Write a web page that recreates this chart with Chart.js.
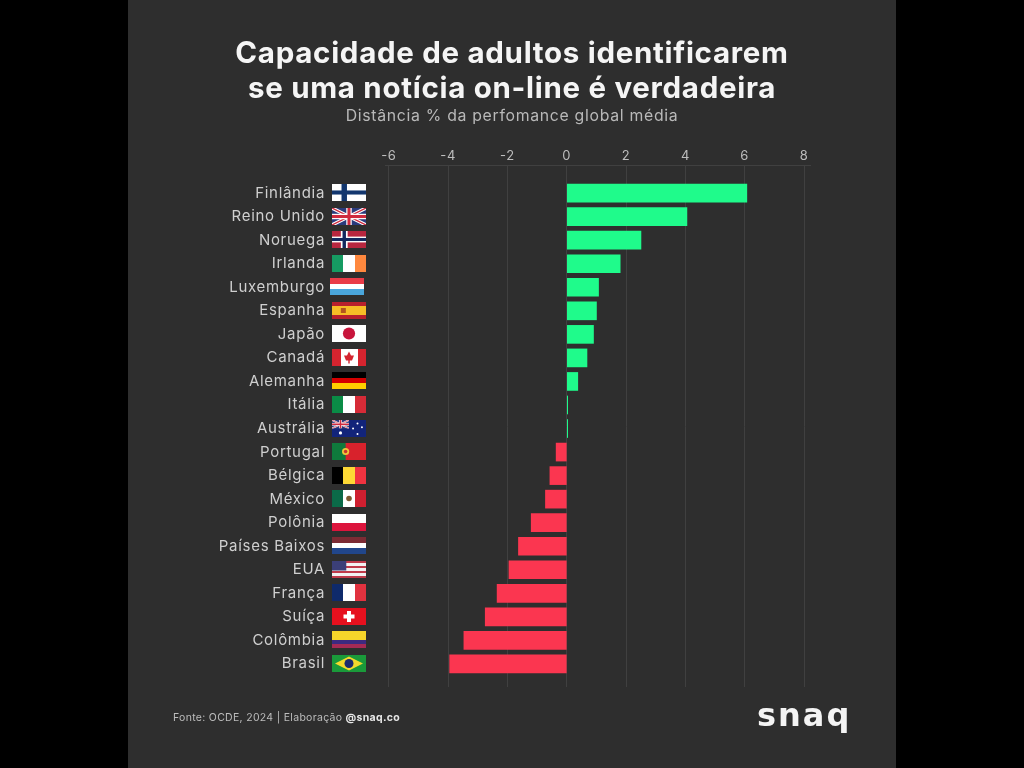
<!DOCTYPE html>
<html>
<head>
<meta charset="utf-8">
<script src="https://cdn.jsdelivr.net/npm/chart.js@4"></script>
<style>
    html, body { margin: 0; padding: 0; background: #000; width: 1024px; height: 768px; overflow: hidden; }
    #panel { position: absolute; left: 128px; top: 0; width: 768px; height: 768px; background: #2e2e2e; }
    #fonte { position: absolute; left: 45px; top: 711px; font: 10.5px Inter, sans-serif; letter-spacing: 0.3px; color: #bdbdbd; }
    #fonte b { color: #e8e8e8; }
    #logo { position: absolute; left: 629px; top: 696px; font: 800 32px "DejaVu Sans", sans-serif; color: #f4f4f4; letter-spacing: 2px; }
</style>
</head>
<body>
<div id="panel">
    <canvas id="chart" width="768" height="768"></canvas>
    <div id="fonte">Fonte: OCDE, 2024 | Elaboração <b>@snaq.co</b></div>
    <div id="logo">snaq</div>
</div>
<script>
const countries = ["Finlândia", "Reino Unido", "Noruega", "Irlanda", "Luxemburgo", "Espanha", "Japão", "Canadá", "Alemanha", "Itália", "Austrália",
    "Portugal", "Bélgica", "México", "Polônia", "Países Baixos", "EUA", "França", "Suíça", "Colômbia", "Brasil"];
const values = [6.07, 4.05, 2.5, 1.8, 1.07, 1.0, 0.9, 0.68, 0.37, 0.03, 0.03,
    -0.36, -0.57, -0.72, -1.2, -1.63, -1.95, -2.35, -2.75, -3.47, -3.95];
const xTicks = [-6, -4, -2, 0, 2, 4, 6, 8];

const GREEN = "#1ffb8b";
const RED = "#fb3650";

// flag = kind of drawing + colours
const flags = [
    ["nordic", "#ffffff", "#12366e"],
    ["uk"],
    ["nordicb", "#b8263f", "#ffffff", "#12285e"],
    ["v", "#169b62", "#ffffff", "#ff883e"],
    ["h", "#ea3b47", "#ffffff", "#4aa6dc"],
    ["spain"],
    ["japan"],
    ["canada"],
    ["h", "#000000", "#d40000", "#ffce00"],
    ["v", "#0a8c46", "#ffffff", "#d62b37"],
    ["aus"],
    ["portugal"],
    ["v", "#000000", "#fdd835", "#ef3340"],
    ["mexico"],
    ["h", "#ffffff", "#dc143c"],
    ["h", "#7c2b34", "#ffffff", "#21468b"],
    ["usa"],
    ["v", "#0f2a6b", "#ffffff", "#e1323f"],
    ["swiss"],
    ["colombia"],
    ["brazil"]
];

function stripesH(ctx, x, y, w, h, cols) {
    cols.forEach((c, i) => {
        const a = Math.round(i * h / cols.length), b = Math.round((i + 1) * h / cols.length);
        ctx.fillStyle = c;
        ctx.fillRect(x, y + a, w, b - a);
    });
}
function stripesV(ctx, x, y, w, h, cols) {
    cols.forEach((c, i) => {
        const a = Math.round(i * w / cols.length), b = Math.round((i + 1) * w / cols.length);
        ctx.fillStyle = c;
        ctx.fillRect(x + a, y, b - a, h);
    });
}
function circle(ctx, x, y, r, c) {
    ctx.fillStyle = c;
    ctx.beginPath();
    ctx.arc(x, y, r, 0, Math.PI * 2);
    ctx.fill();
}
function jack(ctx, x, y, w, h) {
    ctx.fillStyle = "#2a3a7c";
    ctx.fillRect(x, y, w, h);
    ctx.save();
    ctx.beginPath();
    ctx.rect(x, y, w, h);
    ctx.clip();
    [["#ffffff", h * 0.2], ["#cf2a3e", h * 0.08]].forEach(([c, t]) => {
        ctx.strokeStyle = c;
        ctx.lineWidth = t;
        ctx.beginPath();
        ctx.moveTo(x, y);
        ctx.lineTo(x + w, y + h);
        ctx.moveTo(x + w, y);
        ctx.lineTo(x, y + h);
        ctx.stroke();
    });
    ctx.fillStyle = "#ffffff";
    ctx.fillRect(x + w / 2 - h * 0.16, y, h * 0.32, h);
    ctx.fillRect(x, y + h * 0.34, w, h * 0.32);
    ctx.fillStyle = "#cf2a3e";
    ctx.fillRect(x + w / 2 - h * 0.09, y, h * 0.18, h);
    ctx.fillRect(x, y + h * 0.41, w, h * 0.18);
    ctx.restore();
}
function drawFlag(ctx, f, x, y, w, h) {
    const cx = x + w / 2, cy = y + h / 2;
    switch (f[0]) {
        case "h": stripesH(ctx, x, y, w, h, f.slice(1)); break;
        case "v": stripesV(ctx, x, y, w, h, f.slice(1)); break;
        case "nordic":
            ctx.fillStyle = f[1];
            ctx.fillRect(x, y, w, h);
            ctx.fillStyle = f[2];
            ctx.fillRect(x + w * 0.28, y, w * 0.16, h);
            ctx.fillRect(x, y + h * 0.38, w, h * 0.24);
            break;
        case "nordicb":
            ctx.fillStyle = f[1];
            ctx.fillRect(x, y, w, h);
            ctx.fillStyle = f[2];
            ctx.fillRect(x + w * 0.26, y, w * 0.2, h);
            ctx.fillRect(x, y + h * 0.33, w, h * 0.34);
            ctx.fillStyle = f[3];
            ctx.fillRect(x + w * 0.31, y, w * 0.1, h);
            ctx.fillRect(x, y + h * 0.41, w, h * 0.18);
            break;
        case "uk": jack(ctx, x, y, w, h); break;
        case "spain":
            stripesH(ctx, x, y, w, h, ["#b8202c", "#f6bd26", "#f6bd26", "#b8202c"]);
            ctx.fillStyle = "#b3541e";
            ctx.fillRect(x + w * 0.26, cy - 2.5, 5, 5);
            break;
        case "japan":
            ctx.fillStyle = "#ffffff";
            ctx.fillRect(x, y, w, h);
            circle(ctx, cx, cy, h * 0.36, "#c8153c");
            break;
        case "canada":
            stripesV(ctx, x, y, w, h, ["#d5242f", "#ffffff", "#ffffff", "#d5242f"]);
            ctx.fillStyle = "#d5242f";
            ctx.beginPath();
            ctx.moveTo(cx, cy - 6);
            ctx.lineTo(cx + 2, cy - 2);
            ctx.lineTo(cx + 5, cy - 2);
            ctx.lineTo(cx + 3, cy + 3);
            ctx.lineTo(cx + 0.7, cy + 3);
            ctx.lineTo(cx + 0.7, cy + 6);
            ctx.lineTo(cx - 0.7, cy + 6);
            ctx.lineTo(cx - 0.7, cy + 3);
            ctx.lineTo(cx - 3, cy + 3);
            ctx.lineTo(cx - 5, cy - 2);
            ctx.lineTo(cx - 2, cy - 2);
            ctx.closePath();
            ctx.fill();
            break;
        case "aus":
            ctx.fillStyle = "#12247a";
            ctx.fillRect(x, y, w, h);
            jack(ctx, x, y, w * 0.5, h * 0.5);
            circle(ctx, x + w * 0.25, y + h * 0.76, 1.6, "#fff");
            [[0.75, 0.2], [0.62, 0.5], [0.88, 0.42], [0.75, 0.82]].forEach(p => circle(ctx, x + w * p[0], y + h * p[1], 1, "#fff"));
            break;
        case "portugal":
            ctx.fillStyle = "#d8222c";
            ctx.fillRect(x, y, w, h);
            ctx.fillStyle = "#0f7a3c";
            ctx.fillRect(x, y, w * 0.4, h);
            circle(ctx, x + w * 0.4, cy, 3.6, "#f0c53a");
            circle(ctx, x + w * 0.4, cy, 1.8, "#c9372c");
            break;
        case "mexico":
            stripesV(ctx, x, y, w, h, ["#0b6a48", "#ffffff", "#cf1f30"]);
            circle(ctx, cx, cy, 2.8, "#7d5a32");
            break;
        case "usa":
            stripesH(ctx, x, y, w, h, ["#bf3a4a", "#f2f2f2", "#bf3a4a", "#f2f2f2", "#bf3a4a", "#f2f2f2", "#bf3a4a"]);
            ctx.fillStyle = "#3b3f78";
            ctx.fillRect(x, y, w * 0.42, h * 0.56);
            break;
        case "swiss":
            ctx.fillStyle = "#e6101e";
            ctx.fillRect(x, y, w, h);
            ctx.fillStyle = "#ffffff";
            ctx.fillRect(cx - 5.5, cy - 2, 11, 4);
            ctx.fillRect(cx - 2, cy - 5.5, 4, 11);
            break;
        case "colombia":
            stripesH(ctx, x, y, w, h, ["#f6d52a", "#f6d52a", "#3c2a80", "#a52a55"]);
            break;
        case "brazil":
            ctx.fillStyle = "#1a9a3a";
            ctx.fillRect(x, y, w, h);
            ctx.fillStyle = "#f3d92c";
            ctx.beginPath();
            ctx.moveTo(x + 3, cy);
            ctx.lineTo(cx, y + 1.5);
            ctx.lineTo(x + w - 3, cy);
            ctx.lineTo(cx, y + h - 1.5);
            ctx.closePath();
            ctx.fill();
            circle(ctx, cx, cy, 4.5, "#1c2a6e");
            break;
    }
}

// flags sit between the country name and the plot, following the y scale
const flagPlugin = {
    id: "flags",
    beforeDraw(chart) {
        // the reference font runs wider than Inter
        chart.ctx.letterSpacing = "0.7px";
    },
    afterDraw(chart) {
        const { ctx, scales } = chart;
        countries.forEach((name, i) => {
            const y = scales.y.getPixelForValue(i);
            const dx = name === "Luxemburgo" ? -2 : 0;
            drawFlag(ctx, flags[i], 204 + dx, Math.round(y) - 9, 34, 17);
        });
    }
};

new Chart(document.getElementById("chart"), {
    type: "bar",
    data: {
        datasets: [{
            data: values.map((v, i) => ({ x: v, y: i })),
            backgroundColor: values.map(v => v >= 0 ? GREEN : RED),
            barThickness: 18,
            borderSkipped: false
        }]
    },
    options: {
        indexAxis: "y",
        responsive: false,
        animation: false,
        layout: { padding: { top: 37, right: 86, bottom: 81, left: 86 } },
        plugins: {
            legend: { display: false },
            tooltip: { enabled: false },
            title: {
                display: true,
                text: ["Capacidade de adultos identificarem", "se uma notícia on-line é verdadeira"],
                color: "#f5f5f5",
                font: { family: "Inter", size: 29.5, weight: "700", lineHeight: 1.18 },
                padding: { top: 0, bottom: 0 }
            },
            subtitle: {
                display: true,
                text: "Distância % da perfomance global média",
                color: "#b9b9b9",
                font: { family: "Inter", size: 15.8, weight: "400", lineHeight: 1.17 },
                padding: { top: 0, bottom: 0 }
            }
        },
        scales: {
            x: {
                type: "linear",
                position: "top",
                min: -6.13,
                max: 8.2,
                afterBuildTicks(axis) {
                    axis.ticks = xTicks.map(v => ({ value: v }));
                },
                afterFit(axis) {
                    axis.height = 40;
                },
                grid: { color: "#404040", lineWidth: 1, drawTicks: false },
                border: { color: "#404040" },
                ticks: {
                    color: "#bdbdbd",
                    padding: 1,
                    maxRotation: 0,
                    font: { family: "Inter", size: 13 }
                }
            },
            y: {
                type: "linear",
                bounds: "data",
                offset: false,
                reverse: true,
                min: -1.19,
                max: 20.98,
                afterBuildTicks(axis) {
                    axis.ticks = countries.map((c, i) => ({ value: i }));
                },
                afterFit(axis) {
                    axis.width = 171;
                },
                grid: { display: false, drawTicks: false },
                border: { display: false },
                ticks: {
                    autoSkip: false,
                    padding: 60,
                    color: "#cfcfcf",
                    font: { family: "Inter", size: 15 },
                    callback: v => countries[v]
                }
            }
        }
    },
    plugins: [flagPlugin]
});
</script>
</body>
</html>
